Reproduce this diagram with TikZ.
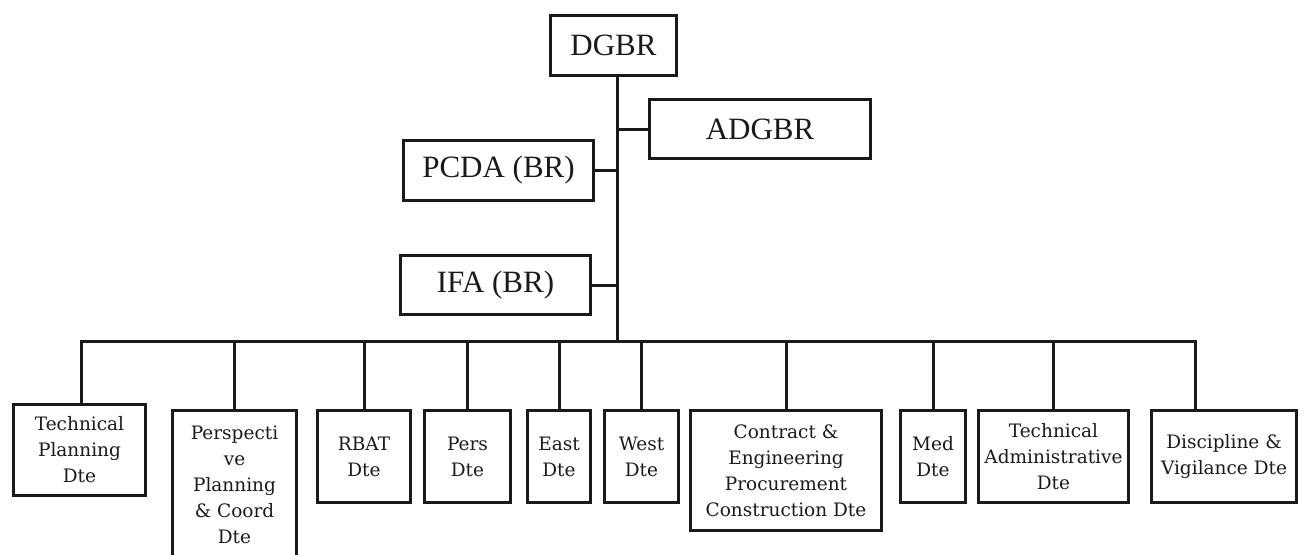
\documentclass[tikz,border=0pt]{standalone}
\usepackage{fontspec}
\setmainfont{Liberation Serif}
\newfontfamily\lowfont{DejaVu Serif}
\definecolor{ink}{HTML}{1A1A1A}
\begin{document}
\begin{tikzpicture}[x=1pt,y=-1pt,
  topbox/.style={draw=ink,line width=3.4pt,rectangle,inner sep=0pt,align=center,
    font=\fontsize{31}{35}\selectfont,text=ink},
  lowbox/.style={draw=ink,line width=3.4pt,rectangle,inner sep=0pt,align=center,
    font=\lowfont\fontsize{18.5}{26}\selectfont,text=ink},
  link/.style={draw=ink,line width=3pt,line join=miter}]
\useasboundingbox (0,0) rectangle (1303,554);
\clip (0,0) rectangle (1303,554);
% top level
\node[topbox,minimum width=125.6pt,minimum height=59.6pt] (dgbr) at (613.5,45.5) {DGBR};
\node[topbox,minimum width=220.6pt,minimum height=58.6pt] (adgbr) at (760,129) {ADGBR};
\node[topbox,minimum width=189.6pt,minimum height=59.6pt] (pcda) at (498.5,170.5) {PCDA (BR)};
\node[topbox,minimum width=189.6pt,minimum height=58.6pt] (ifa) at (495.5,285) {IFA (BR)};
% bus coordinates
\coordinate (bj) at (617,341);
\coordinate (bl) at (81,341);
\coordinate (br) at (1195,341);
% directorates
\node[lowbox,minimum width=131.6pt,minimum height=90.6pt] (tp) at (79.5,450) {Technical\\Planning\\Dte};
\node[lowbox,minimum width=123.6pt,minimum height=147.6pt] (pp) at (234.5,484.5) {Perspecti\\ve\\Planning\\\& Coord\\Dte};
\node[lowbox,minimum width=92.6pt,minimum height=91.6pt] (rbat) at (364,456.5) {RBAT\\Dte};
\node[lowbox,minimum width=85.6pt,minimum height=91.6pt] (pers) at (467.5,456.5) {Pers\\Dte};
\node[lowbox,minimum width=62.6pt,minimum height=91.6pt] (east) at (559,456.5) {East\\Dte};
\node[lowbox,minimum width=73.6pt,minimum height=91.6pt] (west) at (641.5,456.5) {West\\Dte};
\node[lowbox,minimum width=190.6pt,minimum height=119.6pt] (cep) at (786,470.5) {Contract \&\\Engineering\\Procurement\\Construction Dte};
\node[lowbox,minimum width=64.6pt,minimum height=91.6pt] (med) at (933,456.5) {Med\\Dte};
\node[lowbox,minimum width=149.6pt,minimum height=91.6pt] (tad) at (1053.5,456.5) {Technical\\Administrative\\Dte};
\node[lowbox,minimum width=144.6pt,minimum height=91.6pt] (dis) at (1224,456.5) {Discipline \&\\Vigilance Dte};
% connectors
\draw[link] (dgbr.south -| bj) -- (bj);
\draw[link] (adgbr.west) -- (adgbr.west -| bj);
\draw[link] (pcda.east) -- (pcda.east -| bj);
\draw[link] (ifa.east) -- (ifa.east -| bj);
\draw[link] (bl |- tp.north) -- (bl) -- (br) -- (br |- dis.north);
\foreach \n in {pp,rbat,pers,east,west,cep,med,tad}
  \draw[link] (\n.north) -- (\n.north |- bl);
\end{tikzpicture}
\end{document}
